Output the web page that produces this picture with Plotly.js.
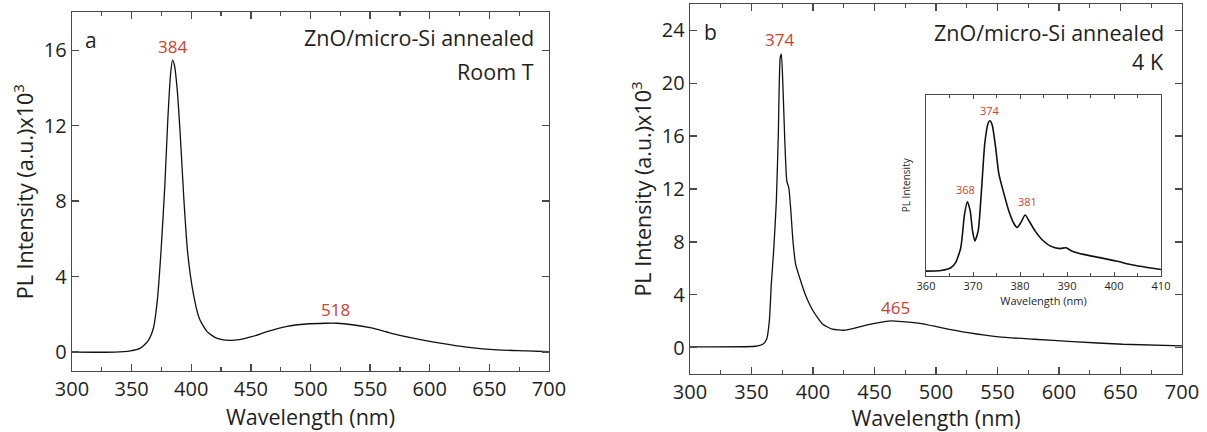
<!DOCTYPE html>
<html>
<head>
<meta charset="utf-8">
<script src="https://cdn.plot.ly/plotly-3.0.1.min.js"></script>
<style>html,body{margin:0;padding:0;background:#fff;}#chart{width:1207px;height:432px;}</style>
</head>
<body>
<div id="chart"></div>
<script>
// Panel a: room temperature PL (intensity x10^3)
const wlA = [300,336,349,357,363.5,368.3,371.5,374.7,377.9,380.4,382.7,384.3,385.9,388.1,390.7,393.9,397.1,401.9,406.7,413.1,421.2,432.4,440.4,451.6,464.4,480.4,496.5,512.5,522,535,551,567,586,608.7,631,656.7,682,700];
const intA = [0,0,0.07,0.2,0.57,1.28,2.7,5.4,8.9,12.4,14.75,15.47,15.2,14.0,11.6,8.0,5.2,3.05,1.8,1.1,0.74,0.62,0.66,0.83,1.1,1.37,1.49,1.53,1.53,1.45,1.28,1.01,0.74,0.48,0.27,0.12,0.07,0.02];

// Panel b: 4 K PL (intensity x10^3)
const wlB = [300,352.9,359.2,362.3,364.5,366.1,368,370.2,371.8,373.3,374.3,375.5,377.1,378.7,380.3,381.8,383.7,385.9,389.1,393.8,400.1,407.9,415.8,425.3,433.1,444.1,453.6,463,472.5,488.2,504,526,551.1,579.5,611,651.9,700];
const intB = [0.05,0.1,0.25,0.63,2.0,4.8,7.3,11.1,16.1,21.9,22.2,19.9,15.6,12.6,12.1,10.6,8.07,6.3,5.3,4.0,2.77,1.76,1.39,1.31,1.46,1.71,1.89,2.02,1.97,1.82,1.51,1.13,0.81,0.63,0.45,0.25,0.13];

// Inset: 4 K PL, 360-410 nm (arbitrary units)
const wlIn = [360,363.2,365.3,366.3,367.4,368.2,368.8,369.4,369.9,370.4,371.1,371.8,372.5,373.2,373.6,374.1,374.8,375.5,376.5,377.6,378.7,379.4,380.2,381.1,382.0,383.2,384.6,386.4,388.5,389.8,391.0,393.5,397,400.5,404,407.5,410];
const intIn = [2.4,2.8,4.3,7.1,15.4,34,40.9,35.9,24.7,19.1,24.7,47,73,84.2,85.7,83.3,71.2,56.3,46.1,35.9,28.8,26.6,29.4,33.5,29.9,24.7,20.1,16.4,14.9,15.4,13.6,11.7,9.9,8.0,5.8,4.3,3.3];

const xTicks = [300,350,400,450,500,550,600,650,700];
const yTicksA = [0,4,8,12,16];
const yTicksB = [0,4,8,12,16,20,24];
const xTicksIn = [360,370,380,390,400,410];

const peaksA = ['384', '518'];
const peaksB = ['374', '465'];
const peaksIn = ['374', '368', '381'];
const titleA = ['ZnO/micro-Si annealed', 'Room T'];
const titleB = ['ZnO/micro-Si annealed', '4 K'];

const W = 1207, H = 432;
const px = x => x / W, py = y => 1 - y / H;
const FONT = '"Open Sans", "Noto Sans", sans-serif';
const TXT = '#231f20';
const RED = '#c9432f';
const AX = '#4a4a4a';

function mainAxis(extra) {
  return Object.assign({
    showline: true, linecolor: AX, linewidth: 1.3, mirror: 'ticks',
    ticks: 'inside', ticklen: 7, tickwidth: 1.3, tickcolor: AX,
    showgrid: false, zeroline: false,
    tickfont: {family: FONT, size: 20, color: TXT},
    automargin: false
  }, extra);
}

const traces = [
  {x: wlA, y: intA, type: 'scatter', mode: 'lines', line: {color: '#111', width: 1.3, shape: 'spline', smoothing: 0.6}, xaxis: 'x', yaxis: 'y', hoverinfo: 'skip'},
  {x: wlB, y: intB, type: 'scatter', mode: 'lines', line: {color: '#111', width: 1.3, shape: 'spline', smoothing: 0.5}, xaxis: 'x2', yaxis: 'y2', hoverinfo: 'skip'},
  {x: wlIn, y: intIn, type: 'scatter', mode: 'lines', line: {color: '#111', width: 1.6, shape: 'spline', smoothing: 0.6}, xaxis: 'x3', yaxis: 'y3', hoverinfo: 'skip'}
];

const ann = [];
function addText(text, x, y, size, color, anchor) {
  ann.push({text: text, xref: 'paper', yref: 'paper', x: px(x), y: py(y), xanchor: anchor || 'center', yanchor: 'middle', showarrow: false, font: {family: FONT, size: size, color: color}});
}
addText('a', 91, 40, 21, TXT);
addText(titleA[0], 536, 37, 21.5, TXT, 'right');
addText(titleA[1], 536, 71, 21.5, TXT, 'right');
addText(peaksA[0], 172, 47, 17, RED);
addText(peaksA[1], 335, 309, 17, RED);

addText('b', 710, 32, 21, TXT);
addText(titleB[0], 1166, 32, 21.5, TXT, 'right');
addText(titleB[1], 1166, 61, 21.5, TXT, 'right');
addText(peaksB[0], 779, 40, 17, RED);
addText(peaksB[1], 895, 307, 17, RED);

addText(peaksIn[0], 990, 111, 11, RED);
addText(peaksIn[1], 965, 189, 11, RED);
addText(peaksIn[2], 1027, 201, 11, RED);

const layout = {
  width: W, height: H,
  margin: {l: 0, r: 0, t: 0, b: 0},
  paper_bgcolor: '#fff', plot_bgcolor: 'rgba(0,0,0,0)',
  showlegend: false,
  xaxis: mainAxis({domain: [px(72), px(549)], range: [300, 700], tickvals: xTicks,
    minor: {dtick: 25, tick0: 300, ticks: 'inside', ticklen: 4, tickwidth: 1.2, tickcolor: AX, showgrid: false},
    title: {text: 'Wavelength (nm)', font: {family: FONT, size: 21.5, color: TXT}, standoff: 0}, anchor: 'y'}),
  yaxis: mainAxis({domain: [py(371), py(12.4)], range: [-1, 18], tickvals: yTicksA,
    title: {text: 'PL Intensity (a.u.)x10<sup>3</sup>', font: {family: FONT, size: 21.5, color: TXT}, standoff: 4}, anchor: 'x'}),
  xaxis2: mainAxis({domain: [px(690), px(1182)], range: [300, 700], tickvals: xTicks,
    minor: {dtick: 25, tick0: 300, ticks: 'inside', ticklen: 4, tickwidth: 1.2, tickcolor: AX, showgrid: false},
    title: {text: 'Wavelength (nm)', font: {family: FONT, size: 21.5, color: TXT}, standoff: 0}, anchor: 'y2'}),
  yaxis2: mainAxis({domain: [py(374), py(4)], range: [-2, 26], tickvals: yTicksB,
    title: {text: 'PL Intensity (a.u.)x10<sup>3</sup>', font: {family: FONT, size: 21.5, color: TXT}, standoff: 4}, anchor: 'x2'}),
  xaxis3: {domain: [px(926), px(1161)], range: [360, 410], tickvals: xTicksIn, anchor: 'y3',
    showline: true, linecolor: AX, linewidth: 1.2, mirror: 'ticks', ticks: 'inside', ticklen: 4, tickwidth: 1, tickcolor: AX,
    minor: {dtick: 5, tick0: 360, ticks: 'inside', ticklen: 3, tickwidth: 1, tickcolor: AX, showgrid: false},
    showgrid: false, zeroline: false, automargin: false,
    tickfont: {family: FONT, size: 11, color: TXT},
    title: {text: 'Wavelength (nm)', font: {family: FONT, size: 11, color: TXT}, standoff: 0}},
  yaxis3: {domain: [py(275.5), py(95)], range: [0, 100], anchor: 'x3',
    showline: true, linecolor: AX, linewidth: 1.2, mirror: true, ticks: '', showticklabels: false,
    showgrid: false, zeroline: false, automargin: false,
    title: {text: 'PL Intensity', font: {family: FONT, size: 10, color: TXT}, standoff: 12}},
  annotations: ann
};

Plotly.newPlot('chart', traces, layout, {staticPlot: true, displayModeBar: false});
</script>
</body>
</html>
